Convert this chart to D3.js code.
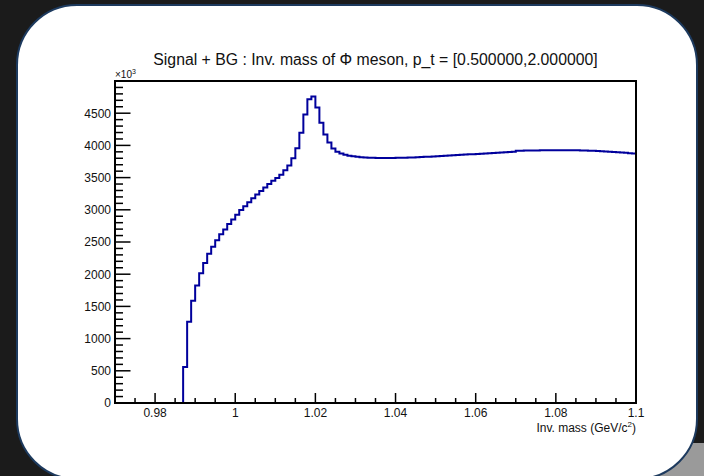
<!DOCTYPE html>
<html>
<head>
<meta charset="utf-8">
<script src="https://cdn.jsdelivr.net/npm/d3@7"></script>
<style>
  html, body { margin: 0; padding: 0; background: #1b1b1b; }
  svg { display: block; }
  text { font-family: "Liberation Sans", Arial, sans-serif; fill: #111; }
</style>
</head>
<body>
<script>
// histogram of the phi invariant mass, bins of 1 MeV from 0.97 to 1.1 GeV
var binWidth = 0.001;
var binLow = d3.range(130).map(function(i) { return +(0.97 + i * binWidth).toFixed(3); });

// entries per bin, in units of 10^3
var countsK = [
    0, 0, 0, 0, 0, 0, 0, 0, 0, 0, 0, 0, 0, 0, 0, 0, 0,
    560, 1262, 1588, 1826, 2015, 2172, 2318, 2426, 2529, 2622,
    2695, 2778, 2851, 2922, 2995, 3057, 3119, 3181, 3239, 3290,
    3347, 3399, 3450, 3492, 3543, 3616, 3688, 3802, 3957, 4195,
    4480, 4718, 4759, 4588, 4350, 4170, 4045, 3952, 3900, 3874,
    3853,
    3838, 3830, 3822, 3816, 3812, 3809, 3807, 3805, 3804, 3804,
    3805, 3806, 3807, 3808, 3810, 3812, 3814, 3817, 3819, 3822,
    3825, 3828, 3832, 3835, 3839, 3842, 3846, 3850, 3853, 3857,
    3861, 3864, 3868, 3872, 3875, 3879, 3882, 3886, 3889, 3893,
    3896, 3900, 3917, 3918, 3919, 3920, 3921, 3922, 3923, 3924,
    3924, 3925, 3925, 3925, 3925, 3924, 3924, 3923, 3922, 3920,
    3918, 3915, 3912, 3908, 3904, 3900, 3896, 3892, 3888, 3884,
    3879, 3875
];

var xMajorTicks = [0.98, 1.0, 1.02, 1.04, 1.06, 1.08, 1.1];
var xTickLabels = ["0.98", "1", "1.02", "1.04", "1.06", "1.08", "1.1"];
var yMajorTicks = [0, 500, 1000, 1500, 2000, 2500, 3000, 3500, 4000, 4500];

var titleText = "Signal + BG : Inv. mass of \u03A6 meson, p_t = [0.500000,2.000000]";

var width = 704, height = 476;
var frame = {left: 115, right: 636, top: 81, bottom: 403};

var svg = d3.select("body").append("svg")
    .attr("width", width)
    .attr("height", height);

// window background
svg.append("rect").attr("width", width).attr("height", height).attr("fill", "#1b1b1b");
svg.append("rect").attr("x", 600).attr("y", 443).attr("width", 104).attr("height", 33).attr("fill", "#9a9a9a");

// rounded white panel
svg.append("rect")
    .attr("x", 17).attr("y", 5)
    .attr("width", 680).attr("height", 474)
    .attr("rx", 60).attr("ry", 60)
    .attr("fill", "#fff")
    .attr("stroke", "#1d3a5e")
    .attr("stroke-width", 2);

var x = d3.scaleLinear().domain([0.97, 1.1]).range([frame.left, frame.right]);
var y = d3.scaleLinear().domain([0, 5000]).range([frame.bottom, frame.top]);

// title
svg.append("text")
    .attr("x", (frame.left + frame.right) / 2)
    .attr("y", 65)
    .attr("text-anchor", "middle")
    .style("font-size", "15.8px")
    .text(titleText);

// histogram steps
var pts = binLow.map(function(b, i) { return [b, countsK[i]]; });
pts.push([binLow[binLow.length - 1] + binWidth, countsK[countsK.length - 1]]);

var line = d3.line()
    .x(function(d) { return x(d[0]); })
    .y(function(d) { return y(d[1]); })
    .curve(d3.curveStepAfter);

svg.append("path")
    .datum(pts)
    .attr("fill", "none")
    .attr("stroke", "#00009c")
    .attr("stroke-width", 2)
    .attr("d", line);

// x axis ticks (drawn inward, ROOT style)
var xMinor = d3.range(0.975, 1.1, 0.005).map(function(v) { return +v.toFixed(3); });
var axes = svg.append("g").attr("stroke", "#000");

axes.selectAll("line.xminor")
    .data(xMinor)
    .enter().append("line")
    .attr("x1", function(d) { return x(d); })
    .attr("x2", function(d) { return x(d); })
    .attr("y1", frame.bottom)
    .attr("y2", function(d) {
        var major = xMajorTicks.some(function(m) { return Math.abs(m - d) < 1e-6; });
        return frame.bottom - (major ? 10 : 5);
    })
    .attr("stroke-width", 1.5);

svg.selectAll("text.xlab")
    .data(xMajorTicks)
    .enter().append("text")
    .attr("class", "xlab")
    .attr("x", function(d) { return x(d); })
    .attr("y", 416.5)
    .attr("text-anchor", "middle")
    .style("font-size", "12px")
    .text(function(d, i) { return xTickLabels[i]; });

// y axis ticks
var yMinor = d3.range(100, 5000, 100);
axes.selectAll("line.yminor")
    .data(yMinor)
    .enter().append("line")
    .attr("x1", frame.left)
    .attr("x2", function(d) { return frame.left + (d % 500 === 0 ? 15.5 : 8); })
    .attr("y1", function(d) { return y(d); })
    .attr("y2", function(d) { return y(d); })
    .attr("stroke-width", 1.5);

svg.selectAll("text.ylab")
    .data(yMajorTicks)
    .enter().append("text")
    .attr("class", "ylab")
    .attr("x", 111)
    .attr("y", function(d) { return y(d) + 4.3; })
    .attr("text-anchor", "end")
    .style("font-size", "12px")
    .text(function(d) { return d; });

// exponent label
var expo = svg.append("text").attr("x", 115).attr("y", 78).style("font-size", "10px");
expo.append("tspan").text("\u00D710");
expo.append("tspan").attr("dy", -4).style("font-size", "7px").text("3");

// axis title
var xt = svg.append("text").attr("x", frame.right).attr("y", 432).attr("text-anchor", "end").style("font-size", "12px");
xt.append("tspan").text("Inv. mass (GeV/c");
xt.append("tspan").attr("dy", -5).style("font-size", "8px").text("2");
xt.append("tspan").attr("dy", 5).text(")");

// frame
svg.append("rect")
    .attr("x", frame.left).attr("y", frame.top)
    .attr("width", frame.right - frame.left)
    .attr("height", frame.bottom - frame.top)
    .attr("fill", "none")
    .attr("stroke", "#000")
    .attr("stroke-width", 2);
</script>
</body>
</html>
